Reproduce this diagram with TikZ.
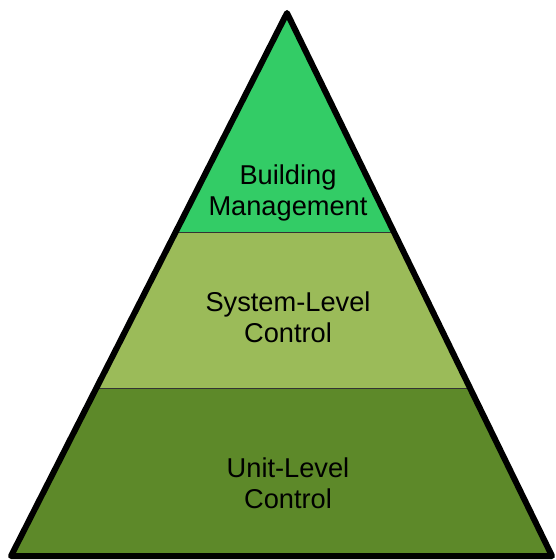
\documentclass[tikz,border=0pt]{standalone}
\usepackage{fontspec}
\setmainfont{Liberation Sans}
\usetikzlibrary{calc}

\definecolor{topgreen}{RGB}{51,204,102}
\definecolor{midgreen}{RGB}{155,187,89}
\definecolor{lowgreen}{RGB}{93,137,41}

\tikzset{
  label/.style={align=center,font=\fontsize{15.5}{17.6}\selectfont},
  band/.style={draw=black!80,line width=0.02cm}
}

\begin{document}
\begin{tikzpicture}[x=0.02cm,y=-0.02cm]
        \useasboundingbox (0,0) rectangle (555,560);
        % fill triangle
        \coordinate (apex) at (287,16);
        \coordinate (bl) at (14,555);
        \coordinate (br) at (549,555);
        \coordinate (ul) at ($(apex)!0.402!(bl)$);
        \coordinate (ur) at ($(apex)!0.402!(br)$);
        \coordinate (ll) at ($(apex)!0.691!(bl)$);
        \coordinate (lr) at ($(apex)!0.691!(br)$);
        \fill [lowgreen] (ll) -- (lr) -- (br) -- (bl) -- cycle;
        \fill [midgreen] (ul) -- (ur) -- (lr) -- (ll) -- cycle;
        \fill [topgreen] (apex) -- (ur) -- (ul) -- cycle;
        \draw [band] (ul) -- (ur);
        \draw [band] (ll) -- (lr);
        % outline
        \draw [line width=0.12cm,line join=round] (287,13) -- (552,556) -- (11,556) -- cycle;
        % labels
        \node [label] (mgmt) at (288,193) {Building\\Management};
        \node [label] (system) at (288,317) {System-Level\\Control};
        \node [label] (unit) at (288,483) {Unit-Level\\Control};
    \end{tikzpicture}
\end{document}
